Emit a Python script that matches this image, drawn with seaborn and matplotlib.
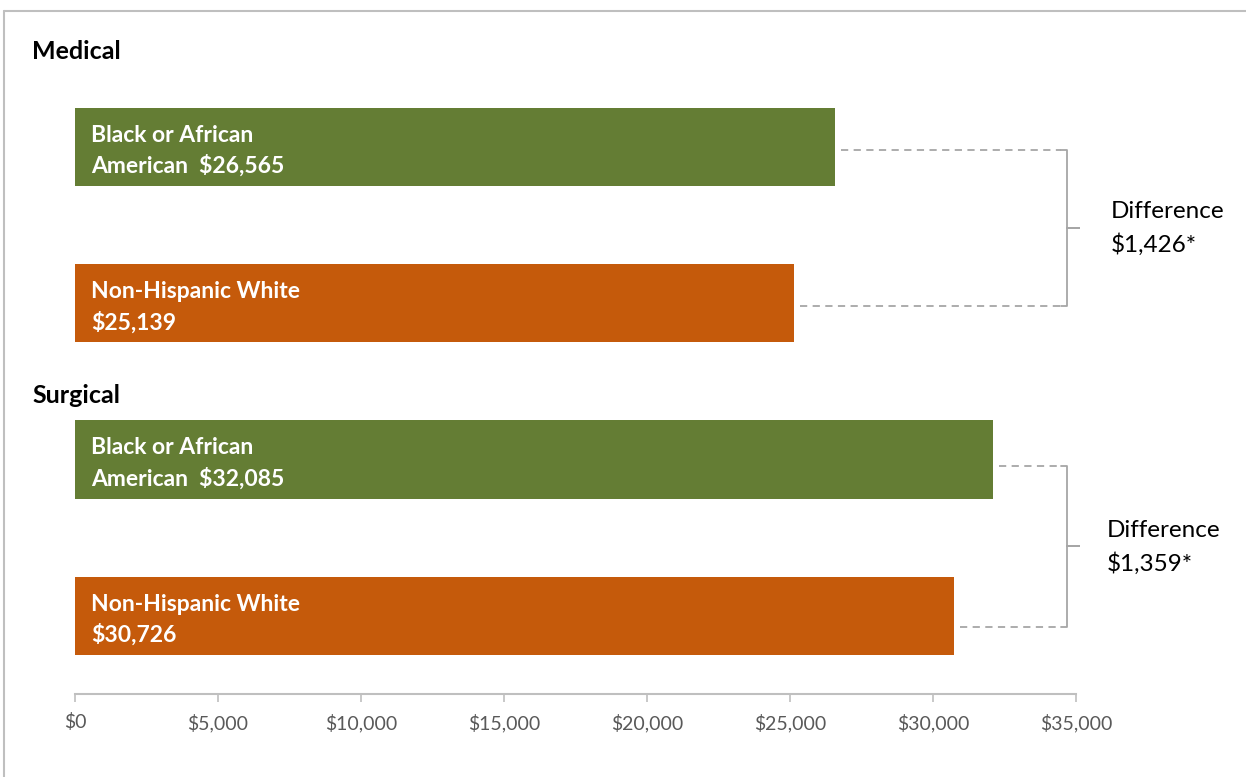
import matplotlib
matplotlib.use("Agg")
import matplotlib.pyplot as plt
import seaborn as sns
import pandas as pd

# ---- data ----
groups = ["Medical", "Surgical"]
races = ["Black or African American", "Non-Hispanic White"]
medical_costs = [26565, 25139]
surgical_costs = [32085, 30726]
differences = ["$1,426*", "$1,359*"]
bar_line1 = ["Black or African", "Non-Hispanic White", "Black or African", "Non-Hispanic White"]
bar_line2 = ["American  $26,565", "$25,139", "American  $32,085", "$30,726"]
tick_values = [0, 5000, 10000, 15000, 20000, 25000, 30000, 35000]
tick_labels = ["$0", "$5,000", "$10,000", "$15,000", "$20,000", "$25,000", "$30,000", "$35,000"]

GREEN = "#647D34"
ORANGE = "#C55A0B"

sns.set_theme(style="white")
plt.rcParams["font.family"] = ["Lato", "DejaVu Sans"]

rows = []
for g, vals in zip(groups, [medical_costs, surgical_costs]):
    for r, v in zip(races, vals):
        rows.append({"key": f"{g}|{r}", "group": g, "race": r, "cost": v})
df = pd.DataFrame(rows)

W, H = 1246, 777
fig = plt.figure(figsize=(W / 100, H / 100), dpi=100)
ax_bottom_px = 694
ax = fig.add_axes([0, 1 - ax_bottom_px / H, 1, ax_bottom_px / H])

palette = {k: (GREEN if "Black" in k else ORANGE) for k in df["key"]}
sns.barplot(data=df, y="key", x="cost", hue="key", palette=palette, orient="h",
            width=0.5, legend=False, ax=ax, saturation=1, edgecolor="none")

# pixel mapping helpers (x: $0 at px 75, $35,000 at px 1076; y: bar centers every ~156 px, first at 147)
px_per_dollar = (1076 - 75) / 35000
px_per_cat = 156.5
x0 = -75 / px_per_dollar
x1 = (W - 75) / px_per_dollar
ax.set_xlim(x0, x1)
ax.set_ylim(3.5, -147 / px_per_cat)

ax.set_ylabel("")
ax.set_xlabel("")
ax.set_yticks([])
for s in ["top", "right", "left"]:
    ax.spines[s].set_visible(False)
ax.spines["bottom"].set_bounds(0, 35000)
ax.spines["bottom"].set_color("#BFBFBF")
ax.spines["bottom"].set_linewidth(1.5)
ax.set_xticks(tick_values)
ax.set_xticklabels(tick_labels)
ax.tick_params(axis="x", direction="out", length=6, width=1.2, color="#BFBFBF",
               labelcolor="#595959", labelsize=14, pad=8, bottom=True)

# bar labels
for i, (l1, l2) in enumerate(zip(bar_line1, bar_line2)):
    tx = 16 / px_per_dollar
    ax.text(tx, i - 0.075, l1, color="white", fontsize=16.5, fontweight="bold", va="center", ha="left")
    ax.text(tx, i + 0.122, l2, color="white", fontsize=16.5, fontweight="bold", va="center", ha="left")

# group headers
ax.text(-43 / px_per_dollar, -0.61, groups[0], fontsize=18, fontweight="bold", color="black", va="center")
ax.text(-43 / px_per_dollar, 1.59, groups[1], fontsize=18, fontweight="bold", color="black", va="center")

# brackets
bx = (1067 - 75) / px_per_dollar
dash_end = (1061 - 75) / px_per_dollar
tick_end = (1079 - 75) / px_per_dollar
gray = "#A6A6A6"
for gi, vals in enumerate([medical_costs, surgical_costs]):
    ytop = gi * 2 + 0.02 + gi * 0.02
    ybot = gi * 2 + 1 + 0.02 + gi * 0.05
    for v, yy in zip(vals, [ytop, ybot]):
        ax.plot([v + 6 / px_per_dollar, dash_end], [yy, yy], color=gray, lw=1.3,
                linestyle=(0, (4, 3)), clip_on=False)
    ymid = (ytop + ybot) / 2
    ax.plot([dash_end, bx, bx, tick_end, bx, bx, dash_end],
            [ytop, ytop, ymid, ymid, ymid, ybot, ybot], color=gray, lw=1.3, clip_on=False)
    tx = (1111 - 75) / px_per_dollar if gi == 0 else (1107 - 75) / px_per_dollar
    ax.text(tx, ymid + 0.005, "Difference\n" + differences[gi], fontsize=17.5, color="black",
            va="center", ha="left", linespacing=1.6)

# frame border (top and left)
fig.add_artist(plt.Line2D([4 / W, 4 / W], [0, 1 - 11 / H], color="#BFBFBF", lw=1.5))
fig.add_artist(plt.Line2D([4 / W, 1], [1 - 11 / H, 1 - 11 / H], color="#BFBFBF", lw=1.5))

fig.savefig("out.png", dpi=100)
